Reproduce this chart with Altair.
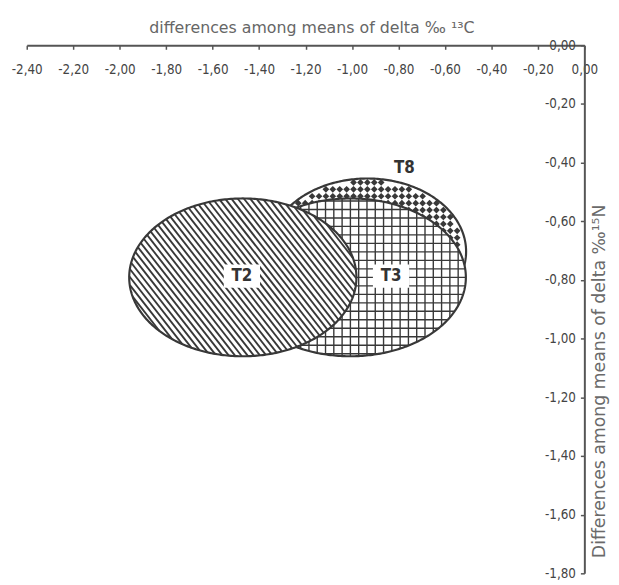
import altair as alt
import numpy as np
import pandas as pd

# ---------------- data ----------------
groups = ["T8", "T3", "T2"]          # drawing order (T2 on top)
center_x = [-0.934, -1.007, -1.470]
center_y = [-0.703, -0.791, -0.791]
semi_x = [0.425, 0.497, 0.489]
semi_y = [0.249, 0.269, 0.269]

label_text = ["T8", "T3", "T2"]
label_x = [-0.775, -0.832, -1.474]
label_y = [-0.420, -0.787, -0.787]
label_boxed = [False, True, True]

x_ticks = [-2.4, -2.2, -2.0, -1.8, -1.6, -1.4, -1.2, -1.0, -0.8, -0.6, -0.4, -0.2, 0.0]
y_ticks = [0.0, -0.2, -0.4, -0.6, -0.8, -1.0, -1.2, -1.4, -1.6, -1.8]
x_title = "differences among means of delta ‰ ¹³C"
y_title = "Differences among means of delta ‰¹⁵N"

# ---------------- layout / style ----------------
W, H = 565, 535
XDOM = [-2.4, 0.0]
YDOM = [-1.8, 0.0]
SX = W / (XDOM[1] - XDOM[0])   # px per unit
SY = H / (YDOM[1] - YDOM[0])
INK = "#383838"
AXIS = "#555555"
LABEL_FONT = "Liberation Sans Narrow, DejaVu Sans Condensed, Liberation Sans, sans-serif"
TITLE_FONT = "DejaVu Sans, Liberation Sans, sans-serif"

# ---------------- geometry derived from ellipse parameters ----------------
fill_rows, outline_rows = [], []
for g, cx, cy, a, b in zip(groups, center_x, center_y, semi_x, semi_y):
    for t in np.linspace(0, np.pi, 241):
        fill_rows.append(dict(g=g, x=cx + a * np.cos(t), y=cy + b * np.sin(t), y2=cy - b * np.sin(t)))
    for i, t in enumerate(np.linspace(0, 2 * np.pi, 361)):
        outline_rows.append(dict(g=g, o=i, x=cx + a * np.cos(t), y=cy + b * np.sin(t)))
fill_df = pd.DataFrame(fill_rows)
outline_df = pd.DataFrame(outline_rows)


def chords(g, cx, cy, a, b, theta_deg, spacing):
    A, B = a * SX, b * SY
    th = np.radians(theta_deg)
    du, dv = np.cos(th), -np.sin(th)
    nu, nv = np.sin(th), np.cos(th)
    R = max(A, B)
    rows = []
    for c in np.arange(-np.floor(R / spacing) * spacing, R, spacing):
        qa = du * du / A**2 + dv * dv / B**2
        qb = 2 * c * (nu * du / A**2 + nv * dv / B**2)
        qc = c * c * (nu * nu / A**2 + nv * nv / B**2) - 1
        disc = qb * qb - 4 * qa * qc
        if disc <= 0:
            continue
        t1 = (-qb - np.sqrt(disc)) / (2 * qa)
        t2 = (-qb + np.sqrt(disc)) / (2 * qa)
        u1, v1 = c * nu + t1 * du, c * nv + t1 * dv
        u2, v2 = c * nu + t2 * du, c * nv + t2 * dv
        rows.append(dict(g=g, x=cx + u1 / SX, y=cy + v1 / SY, x2=cx + u2 / SX, y2=cy + v2 / SY))
    return rows


hatch_rows, dot_rows = [], []
for g, cx, cy, a, b in zip(groups, center_x, center_y, semi_x, semi_y):
    if g == "T2":
        hatch_rows += chords(g, cx, cy, a, b, 52, 5.0)
    elif g == "T3":
        hatch_rows += chords(g, cx, cy, a, b, 90, 8.4)
        hatch_rows += chords(g, cx, cy, a, b, 0, 8.6)
    else:
        A, B = a * SX, b * SY
        step = 7.0
        for i in np.arange(-np.ceil(A / step), np.ceil(A / step) + 1):
            for j in np.arange(-np.ceil(B / step), np.ceil(B / step) + 1):
                u, v = i * step, j * step
                if (u / (A - 3)) ** 2 + (v / (B - 3)) ** 2 <= 1:
                    dot_rows.append(dict(g=g, x=cx + u / SX, y=cy + v / SY))
hatch_df = pd.DataFrame(hatch_rows)
dot_df = pd.DataFrame(dot_rows)

label_df = pd.DataFrame(dict(g=label_text, x=label_x, y=label_y, boxed=label_boxed))

# ---------------- chart ----------------
xs = alt.Scale(domain=XDOM, nice=False, zero=False)
ys = alt.Scale(domain=YDOM, nice=False, zero=False)
lab_expr = "(datum.value < -0.0001 ? '-' : '') + replace(format(abs(datum.value), '.2f'), '.', ',')"

x_axis = alt.Axis(
    orient="bottom", offset=-H, values=x_ticks, labelExpr=lab_expr,
    domainColor=AXIS, domainWidth=2, tickColor=AXIS, tickWidth=1.5, tickSize=4,
    labelFont=LABEL_FONT, labelFontSize=13.5, labelColor="#444444", labelPadding=14,
    labelFlush=False, labelOverlap=False, grid=False,
    title=x_title, titleFont=TITLE_FONT, titleFontSize=16, titleFontWeight="normal",
    titleColor="#666666", titleX=W / 2 + 6, titleY=-18, titleBaseline="middle", titleAnchor="middle",
)
y_axis = alt.Axis(
    orient="left", offset=-W, values=y_ticks, labelExpr=lab_expr,
    domainColor=AXIS, domainWidth=2, tickColor=AXIS, tickWidth=1.5, tickSize=4,
    labelFont=LABEL_FONT, labelFontSize=13.5, labelColor="#444444", labelPadding=5,
    labelFlush=False, labelOverlap=False, grid=False,
    title=y_title, titleFont=TITLE_FONT, titleFontSize=17.5, titleFontWeight="normal",
    titleColor="#6a6a6a", titleX=15, titleY=340, titleBaseline="middle", titleAngle=-90,
    titleAnchor="middle",
)


def X(field="x"):
    return alt.X(f"{field}:Q", scale=xs, axis=x_axis)


def Y(field="y"):
    return alt.Y(f"{field}:Q", scale=ys, axis=y_axis)


layers = []
for g in groups:
    fill = alt.Chart(fill_df).transform_filter(alt.datum.g == g).mark_area(
        color="white", opacity=1, interpolate="linear"
    ).encode(x=X(), y=Y(), y2="y2:Q")
    layers.append(fill)
    if g == "T8":
        pat = alt.Chart(dot_df).transform_filter(alt.datum.g == g).mark_point(
            shape="diamond", filled=True, color=INK, size=46, opacity=1
        ).encode(x=X(), y=Y())
    else:
        pat = alt.Chart(hatch_df).transform_filter(alt.datum.g == g).mark_rule(
            color=INK, strokeWidth=1.9 if g == "T2" else 1.4
        ).encode(x=X(), y=Y(), x2="x2:Q", y2="y2:Q")
    layers.append(pat)
    outline = alt.Chart(outline_df).transform_filter(alt.datum.g == g).mark_line(
        color=INK, strokeWidth=2.2
    ).encode(x=X(), y=Y(), order="o:Q")
    layers.append(outline)

box = alt.Chart(label_df).transform_filter(alt.datum.boxed).mark_point(
    shape="M-1,-0.64L1,-0.64L1,0.64L-1,0.64Z", filled=True, color="white", size=1350, opacity=1
).encode(x=X(), y=Y())
text = alt.Chart(label_df).mark_text(
    font=LABEL_FONT, fontSize=17, fontWeight="bold", color="#333333", baseline="middle", align="center"
).encode(x=X(), y=Y(), text="g:N")
layers += [box, text]

chart = alt.layer(*layers).properties(
    width=W, height=H,
    background="white",
    autosize=alt.AutoSizeParams(type="none"),
    padding={"left": 19, "top": 34, "right": 27, "bottom": 8},
).configure_view(stroke="transparent", strokeWidth=0)

chart.save("out.html", embed_options={"renderer": "svg", "actions": False})
